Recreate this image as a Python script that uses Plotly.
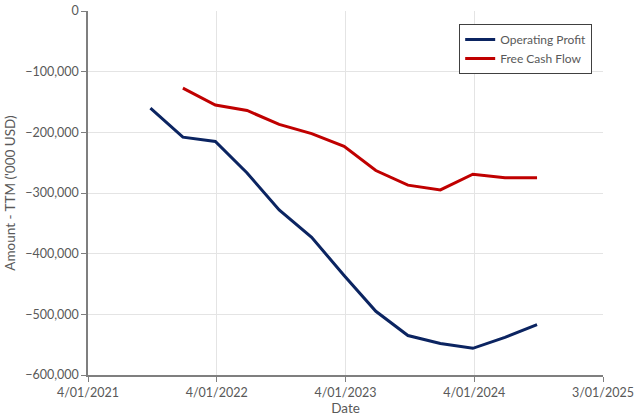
import plotly.graph_objects as go

op_dates = ["2021-06-30", "2021-09-30", "2021-12-31", "2022-03-31", "2022-06-30", "2022-09-30",
            "2022-12-31", "2023-03-31", "2023-06-30", "2023-09-30", "2023-12-31", "2024-03-31", "2024-06-30"]
op_values = [-160000, -208000, -215000, -267000, -328000, -373000,
             -436000, -495000, -535000, -548000, -556000, -538000, -517000]

fcf_dates = ["2021-09-30", "2021-12-31", "2022-03-31", "2022-06-30", "2022-09-30",
             "2022-12-31", "2023-03-31", "2023-06-30", "2023-09-30", "2023-12-31", "2024-03-31", "2024-06-30"]
fcf_values = [-127000, -155000, -164000, -187000, -202000,
              -223000, -263000, -287000, -295000, -269000, -275000, -275000]

x_tick_vals = ["2021-01-04", "2022-01-04", "2023-01-04", "2024-01-04", "2025-01-03"]
x_tick_text = ["4/01/2021", "4/01/2022", "4/01/2023", "4/01/2024", "3/01/2025"]
y_tick_vals = [0, -100000, -200000, -300000, -400000, -500000, -600000]

FONT = "Lato, 'Open Sans', sans-serif"
TXT = "#595959"

fig = go.Figure()
fig.add_trace(go.Scatter(x=op_dates, y=op_values, mode="lines", name="Operating Profit",
                         line=dict(color="#0b2461", width=3)))
fig.add_trace(go.Scatter(x=fcf_dates, y=fcf_values, mode="lines", name="Free Cash Flow",
                         line=dict(color="#c00000", width=3)))

fig.update_layout(
    width=640, height=419,
    margin=dict(l=88, r=37, t=11, b=44),
    paper_bgcolor="white", plot_bgcolor="white",
    font=dict(family=FONT, color=TXT, size=12),
    showlegend=True,
    legend=dict(x=0.979, y=0.964, xanchor="right", yanchor="top",
                bordercolor="#404040", borderwidth=1, bgcolor="white",
                font=dict(size=12, color=TXT), tracegroupgap=0,
                itemwidth=30),
    xaxis=dict(type="date", range=[x_tick_vals[0], x_tick_vals[-1]],
               tickmode="array", tickvals=x_tick_vals, ticktext=x_tick_text,
               showgrid=True, gridcolor="#e4e4e4", gridwidth=1,
               showline=True, linecolor="#7f7f7f", linewidth=1.5,
               ticks="outside", tickcolor="#7f7f7f", ticklen=5,
               tickfont=dict(size=12.5, color=TXT), automargin=False,
               title=dict(text="Date", font=dict(size=13.5, color=TXT), standoff=4),
               zeroline=False),
    yaxis=dict(range=[-600000, 0], tickmode="array", tickvals=y_tick_vals,
               tickformat=",d", automargin=False,
               showgrid=True, gridcolor="#e4e4e4", gridwidth=1,
               showline=True, linecolor="#7f7f7f", linewidth=1.5,
               ticks="outside", tickcolor="#7f7f7f", ticklen=5,
               tickfont=dict(size=12.5, color=TXT),
               title=dict(text="Amount - TTM ('000 USD)", font=dict(size=13.5, color=TXT), standoff=6),
               zeroline=False),
)

fig.write_html("out.html")
